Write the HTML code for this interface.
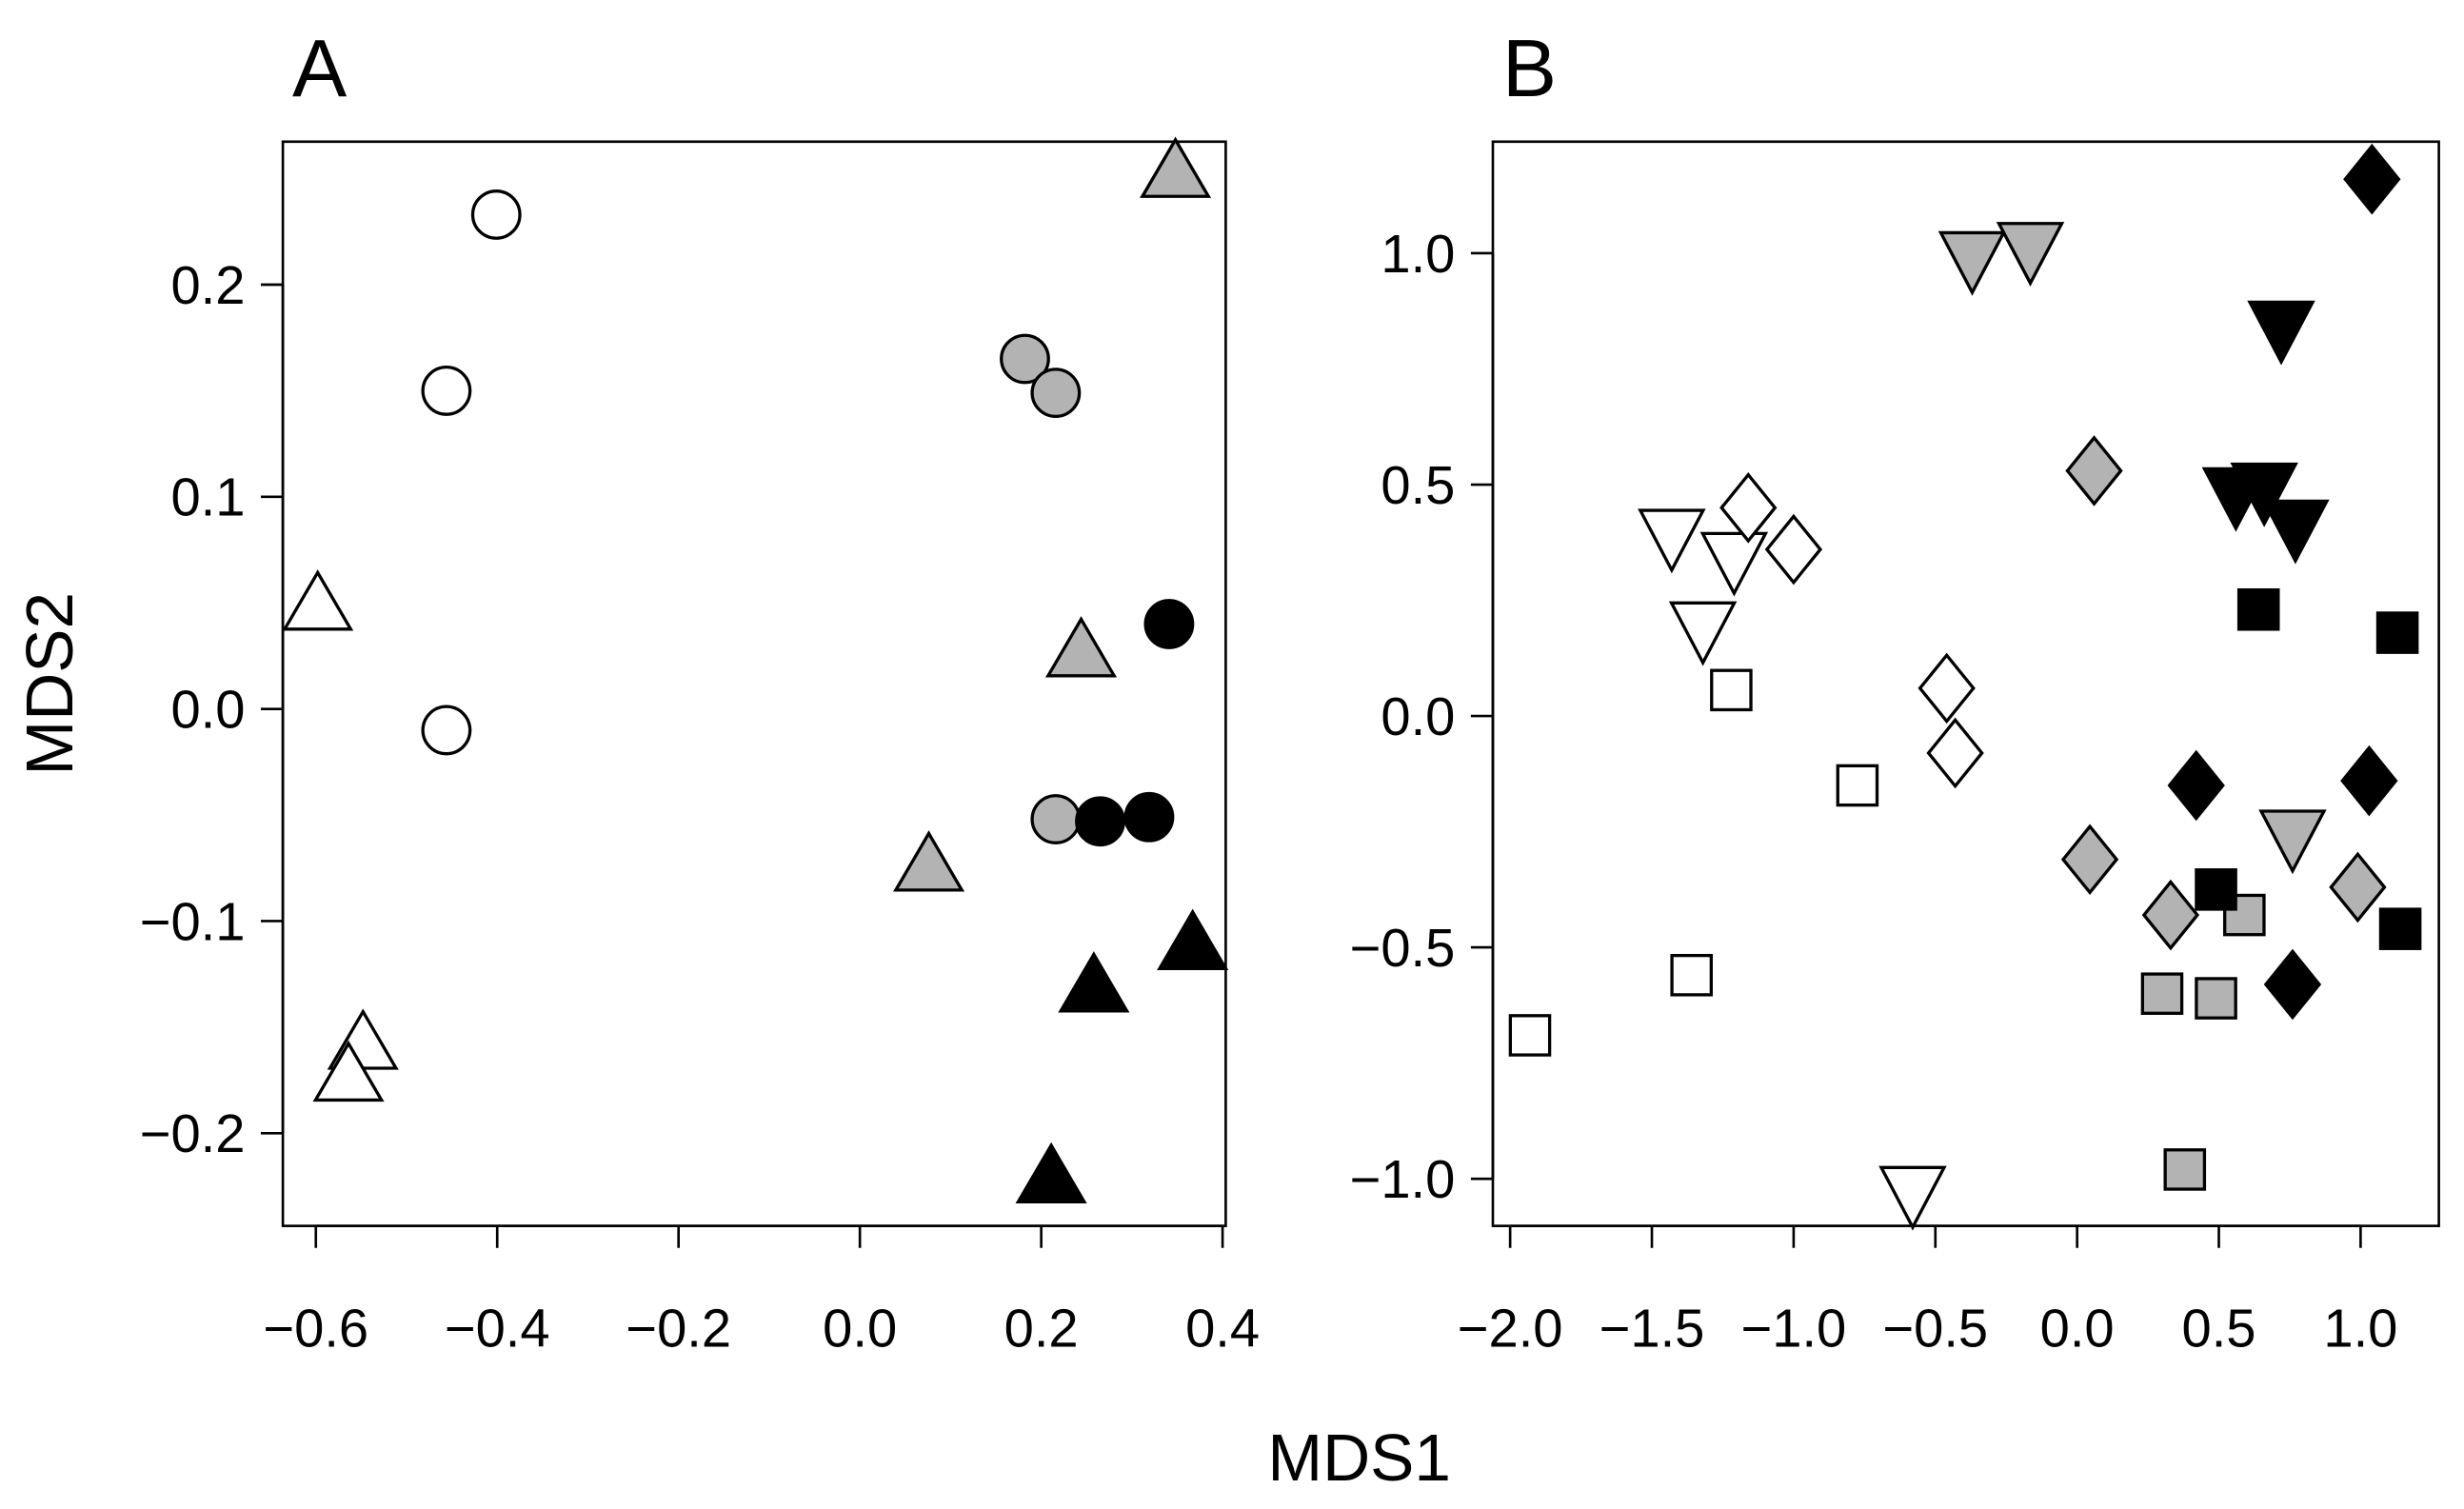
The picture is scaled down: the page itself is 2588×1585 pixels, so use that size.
<!DOCTYPE html>
<html><head><meta charset="utf-8"><style>html,body{margin:0;padding:0;background:#fff}svg{display:block}</style></head>
<body>
<svg id="fig" xmlns="http://www.w3.org/2000/svg" width="2588" height="1585" viewBox="0 0 1568 960" font-family="Liberation Sans, sans-serif"></svg>
<script>
// Panel A data
const aOpenCircleX=[-0.401,-0.456,-0.456], aOpenCircleY=[0.233,0.150,-0.010];
const aOpenTriX=[-0.598,-0.548,-0.564], aOpenTriY=[0.048,-0.159,-0.174];
const aGrayCircleX=[0.182,0.216,0.216], aGrayCircleY=[0.165,0.149,-0.052];
const aGrayTriX=[0.348,0.244,0.076], aGrayTriY=[0.252,0.026,-0.075];
const aBlackCircleX=[0.341,0.265,0.319], aBlackCircleY=[0.040,-0.053,-0.051];
const aBlackTriX=[0.367,0.258,0.211], aBlackTriY=[-0.112,-0.132,-0.222];
const aXTicks=[-0.6,-0.4,-0.2,0.0,0.2,0.4], aXLabels=["−0.6","−0.4","−0.2","0.0","0.2","0.4"];
const aYTicks=[-0.2,-0.1,0.0,0.1,0.2], aYLabels=["−0.2","−0.1","0.0","0.1","0.2"];
// Panel B data
const bOpenInvX=[-1.43,-1.21,-1.32,-0.58], bOpenInvY=[0.39,0.34,0.19,-1.03];
const bOpenDiaX=[-1.16,-1.00,-0.46,-0.43], bOpenDiaY=[0.45,0.36,0.06,-0.08];
const bOpenSqX=[-1.22,-0.775,-1.36,-1.93], bOpenSqY=[0.056,-0.15,-0.56,-0.69];
const bGrayInvX=[-0.37,-0.165,0.76], bGrayInvY=[0.99,1.01,-0.26];
const bGrayDiaX=[0.06,0.045,0.33,0.99], bGrayDiaY=[0.53,-0.31,-0.43,-0.37];
const bGraySqX=[0.59,0.30,0.49,0.38], bGraySqY=[-0.43,-0.60,-0.61,-0.98];
const bBlackInvX=[0.72,0.56,0.66,0.77], bBlackInvY=[0.84,0.48,0.49,0.41];
const bBlackDiaX=[1.04,0.42,1.03,0.76], bBlackDiaY=[1.16,-0.15,-0.14,-0.58];
const bBlackSqX=[0.64,1.13,0.49,1.14], bBlackSqY=[0.23,0.18,-0.375,-0.46];
const bXTicks=[-2.0,-1.5,-1.0,-0.5,0.0,0.5,1.0], bXLabels=["−2.0","−1.5","−1.0","−0.5","0.0","0.5","1.0"];
const bYTicks=[-1.0,-0.5,0.0,0.5,1.0], bYLabels=["−1.0","−0.5","0.0","0.5","1.0"];

const svg=document.getElementById('fig');
const NS='http://www.w3.org/2000/svg';
function mk(tag,attrs,parent){const e=document.createElementNS(NS,tag);for(const k in attrs)e.setAttribute(k,attrs[k]);(parent||svg).appendChild(e);return e;}
const GRAY='#b3b3b3';

const ax={sx:v=>201+(v+0.6)*577,sy:v=>451-v*1350};
const bx={sx:v=>961+(v+2)*180.4,sy:v=>455.5-v*294.5};

function frame(name,x0,x1,y0,y1,s,xt,xl,yt,yl,letter){
  const g=mk('g',{});
  
  
  const r=mk('rect',{x:x0,y:y0,width:x1-x0,height:y1-y0,fill:'none',stroke:'#000','stroke-width':1.6},g);
  
  
  const xa=mk('g',{},g);
  
  
  mk('line',{x1:s.sx(xt[0]),x2:s.sx(xt[xt.length-1]),y1:y1,y2:y1,stroke:'#000','stroke-width':1.6},xa);
  xt.forEach((v,i)=>{const X=s.sx(v);
    mk('line',{x1:X,x2:X,y1:y1,y2:y1+14,stroke:'#000','stroke-width':1.6},xa);
    const t=mk('text',{x:X,y:y1+77,'text-anchor':'middle','font-size':34},xa);t.textContent=xl[i];
    
    });
  const ya=mk('g',{},g);
  
  
  mk('line',{x1:x0,x2:x0,y1:s.sy(yt[0]),y2:s.sy(yt[yt.length-1]),stroke:'#000','stroke-width':1.6},ya);
  yt.forEach((v,i)=>{const Y=s.sy(v);
    mk('line',{x1:x0,x2:x0-14,y1:Y,y2:Y,stroke:'#000','stroke-width':1.6},ya);
    const t=mk('text',{x:x0-24,y:Y+12,'text-anchor':'end','font-size':34},ya);t.textContent=yl[i];
    
    });
  const L=mk('text',{x:x0+6,y:61,'font-size':52},g);L.textContent=letter;
  
  
}
frame('panel-a',180,780,90,780,ax,aXTicks,aXLabels,aYTicks,aYLabels,'A');
frame('panel-b',950,1552,90,780,bx,bXTicks,bXLabels,bYTicks,bYLabels,'B');

function pts(xs,ys,s,shape,fill,name){
  const g=mk('g',{});
  
  
  xs.forEach((v,i)=>{const X=s.sx(v),Y=s.sy(ys[i]);let e;
    const st={fill:fill,stroke:'#000','stroke-width':2};
    if(shape==='circle')e=mk('circle',Object.assign({cx:X,cy:Y,r:15},st),g);
    else if(shape==='tri')e=mk('polygon',Object.assign({points:`${X-21},${Y+14} ${X+21},${Y+14} ${X},${Y-22}`},st),g);
    else if(shape==='inv')e=mk('polygon',Object.assign({points:`${X-20},${Y-16} ${X+20},${Y-16} ${X},${Y+22}`},st),g);
    else if(shape==='dia')e=mk('polygon',Object.assign({points:`${X},${Y-21} ${X+17},${Y} ${X},${Y+21} ${X-17},${Y}`},st),g);
    else e=mk('rect',Object.assign({x:X-12.5,y:Y-12.5,width:25,height:25},st),g);
    
    
  });
}
pts(aOpenCircleX,aOpenCircleY,ax,'circle','#fff','a-open-circles');
pts(aOpenTriX,aOpenTriY,ax,'tri','#fff','a-open-triangles');
pts(aGrayCircleX,aGrayCircleY,ax,'circle',GRAY,'a-gray-circles');
pts(aGrayTriX,aGrayTriY,ax,'tri',GRAY,'a-gray-triangles');
pts(aBlackCircleX,aBlackCircleY,ax,'circle','#000','a-black-circles');
pts(aBlackTriX,aBlackTriY,ax,'tri','#000','a-black-triangles');
pts(bOpenInvX,bOpenInvY,bx,'inv','#fff','b-open-inv-triangles');
pts(bOpenDiaX,bOpenDiaY,bx,'dia','#fff','b-open-diamonds');
pts(bOpenSqX,bOpenSqY,bx,'sq','#fff','b-open-squares');
pts(bGrayInvX,bGrayInvY,bx,'inv',GRAY,'b-gray-inv-triangles');
pts(bGrayDiaX,bGrayDiaY,bx,'dia',GRAY,'b-gray-diamonds');
pts(bGraySqX,bGraySqY,bx,'sq',GRAY,'b-gray-squares');
pts(bBlackInvX,bBlackInvY,bx,'inv','#000','b-black-inv-triangles');
pts(bBlackDiaX,bBlackDiaY,bx,'dia','#000','b-black-diamonds');
pts(bBlackSqX,bBlackSqY,bx,'sq','#000','b-black-squares');

const xt=mk('text',{x:865,y:942,'text-anchor':'middle','font-size':42});xt.textContent='MDS1';


const yt=mk('text',{x:0,y:0,'text-anchor':'middle','font-size':42,transform:'translate(46,435) rotate(-90)'});yt.textContent='MDS2';


</script>
</body></html>
